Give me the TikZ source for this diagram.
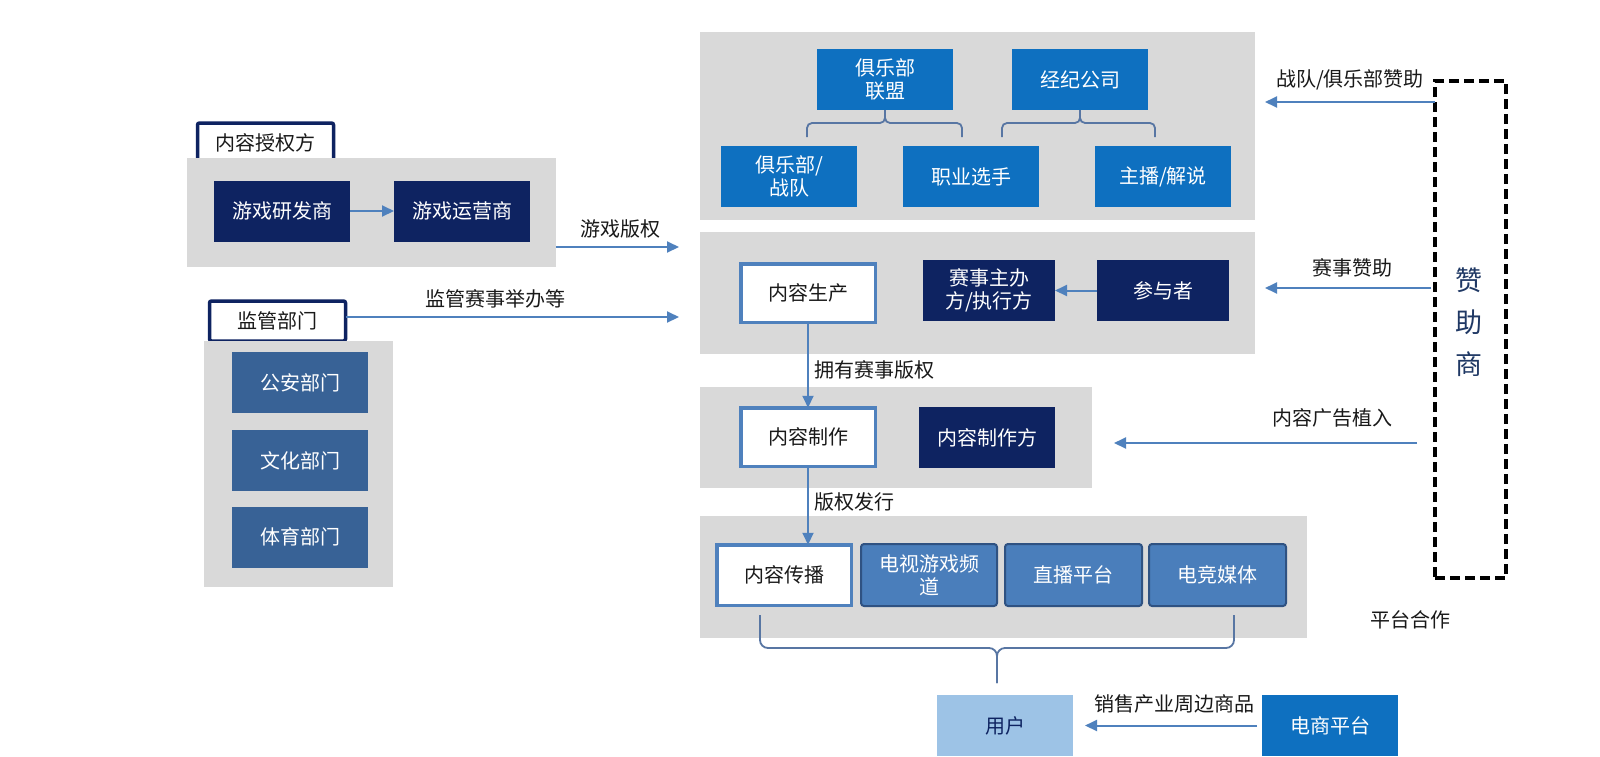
\documentclass[tikz,border=0pt]{standalone}
\usepackage{fontspec}
\setmainfont{Noto Sans CJK SC}
\usetikzlibrary{arrows.meta,calc}
\definecolor{navy}{RGB}{14,35,97}
\definecolor{midblue}{RGB}{14,112,192}
\definecolor{steel}{RGB}{56,98,150}
\definecolor{plat}{RGB}{74,126,187}
\definecolor{platb}{RGB}{47,82,130}
\definecolor{arrowc}{RGB}{79,129,189}
\definecolor{bracec}{RGB}{88,118,163}
\definecolor{boxgray}{RGB}{217,217,217}
\definecolor{lightb}{RGB}{157,195,230}
\definecolor{sponsor}{RGB}{31,56,100}
\definecolor{txt}{RGB}{25,25,25}
\begin{document}
\begin{tikzpicture}[x=1pt,y=-1pt,
  every node/.style={font=\fontsize{20}{23}\selectfont, inner sep=0pt, outer sep=0pt, align=center, text=txt},
  panel/.style={fill=boxgray},
  tab/.style={draw=navy, line width=3.5pt, fill=white, rounded corners=2pt, minimum width=136pt, minimum height=40pt},
  navybox/.style={fill=navy, text=white, minimum width=136pt, minimum height=61pt},
  bluebox/.style={fill=midblue, text=white, minimum width=136pt, minimum height=61pt},
  steelbox/.style={fill=steel, text=white, minimum width=136pt, minimum height=61pt},
  platbox/.style={fill=plat, draw=platb, line width=2pt, rounded corners=3pt, text=white, minimum width=136pt, minimum height=62pt},
  whitebox/.style={fill=white, draw=arrowc, line width=3.5pt, minimum width=134.5pt, minimum height=58.5pt},
  arr/.style={draw=arrowc, line width=2pt, -{Triangle[length=12pt,width=11pt]}},
  brace/.style={draw=bracec, line width=1.8pt, rounded corners=5pt},
]
\useasboundingbox (0,0) rectangle (1600,756);
\fill[white] (0,0) rectangle (1600,756);

% ---------- left: content licensors ----------
\node[tab] (tab1) at (265.5,143) {内容授权方};
\node[panel, minimum width=369pt, minimum height=109pt] (g1) at (371.5,212.5) {};
\node[navybox] (yf) at (282,211) {游戏研发商};
\node[navybox] (yy) at (462,211) {游戏运营商};
\draw[arr] (yf) -- (yy);

% ---------- left: regulators ----------
\node[tab] (tab2) at (277.5,321) {监管部门};
\node[panel, minimum width=189pt, minimum height=246pt] (g2) at (298.5,464) {};
\node[steelbox] (ga) at (300,382.5) {公安部门};
\node[steelbox] (wh) at (300,460.5) {文化部门};
\node[steelbox] (ty) at (300,537) {体育部门};

% ---------- right panels ----------
\node[panel, minimum width=555pt, minimum height=188pt] (r1) at (977.5,126) {};
\node[panel, minimum width=555pt, minimum height=122pt] (r2) at (977.5,293) {};
\node[panel, minimum width=392pt, minimum height=101pt] (r3) at (896,437.5) {};
\node[panel, minimum width=607pt, minimum height=122pt] (r4) at (1003.5,577) {};

% row 1
\node[bluebox] (lm) at (885,79.5) {俱乐部\\联盟};
\node[bluebox] (jj) at (1080,79.5) {经纪公司};
\node[bluebox] (jlb) at (789,176.5) {俱乐部/\\战队};
\node[bluebox] (zy) at (971,176.5) {职业选手};
\node[bluebox] (zb) at (1163,176.5) {主播/解说};
\draw[brace] ($(lm.south)+(-78,27)$) |- ($(lm.south)+(0,13)$) -- (lm.south);
\draw[brace] ($(lm.south)+(77,27)$) |- ($(lm.south)+(0,13)$) -- (lm.south);
\draw[brace] ($(jj.south)+(-78,27)$) |- ($(jj.south)+(0,13)$) -- (jj.south);
\draw[brace] ($(jj.south)+(75,27)$) |- ($(jj.south)+(0,13)$) -- (jj.south);

% row 2
\node[whitebox] (sc) at (808,293) {内容生产};
\node[navybox, minimum width=132pt] (zbf) at (989,290.5) {赛事主办\\方/执行方};
\node[navybox, minimum width=132pt] (cy) at (1163,290.5) {参与者};
\draw[arr] (cy) -- (zbf);

% row 3
\node[whitebox] (nz) at (808,437) {内容制作};
\node[navybox] (nzf) at (987,437.5) {内容制作方};

% row 4
\node[whitebox, minimum height=60.5pt] (cb) at (784,575) {内容传播};
\node[platbox] (ds) at (929,575) {电视游戏频\\道};
\node[platbox, minimum width=137pt] (zbpt) at (1073.5,575) {直播平台};
\node[platbox, minimum width=137pt] (djmt) at (1217.5,575) {电竞媒体};

% vertical flow
\draw[arr] (sc.south) -- (nz.north);
\node[anchor=west] (l1) at (814,370) {拥有赛事版权};
\draw[arr] (nz.south) -- (nz.south |- cb.north);
\node[anchor=west] (l2) at (814,502) {版权发行};

% bottom brace to users
\coordinate (bl) at (760,615);
\coordinate (br) at (1234,615);
\coordinate (bm) at (997,648);
\coordinate (bt) at (997,683);
\draw[brace, rounded corners=8pt] (bl) |- (bm) -- (bt);
\draw[brace, rounded corners=8pt] (br) |- (bm) -- (bt);

\node[fill=lightb, text=navy, minimum width=136pt, minimum height=61pt] (yh) at (1005,725.5) {用户};
\node[bluebox] (ds2) at (1330,725.5) {电商平台};
\draw[arr, shorten <=5pt, shorten >=12pt] (ds2.west) -- (yh.east);
\node (l3) at (1174,704) {销售产业周边商品};

% inputs from the left
\coordinate (vr) at (0,247);
\draw[arr, shorten >=21pt] (g1.east |- vr) -- (r2.west |- vr);
\node (l4) at (620,229) {游戏版权};
\coordinate (rg) at (0,317);
\draw[arr, shorten >=21pt] (tab2.east |- rg) -- (r2.west |- rg);
\node (l5) at (495,299) {监管赛事举办等};

% sponsor
\node[draw=black, line width=3.5pt, dash pattern=on 10pt off 5pt, minimum width=71pt, minimum height=497pt] (zzs) at (1470.5,329.5) {};
\node[font=\fontsize{27}{42}\selectfont, text=sponsor] (zzt) at (1469,322) {赞\\助\\商};
\coordinate (s1) at (0,102);
\draw[arr, shorten >=10pt] (zzs.west |- s1) -- (r1.east |- s1);
\node (l6) at (1350,80) {战队/俱乐部赞助};
\coordinate (s2) at (0,288);
\draw[arr, shorten <=4pt, shorten >=10pt] (zzs.west |- s2) -- (r2.east |- s2);
\node (l7) at (1352,268) {赛事赞助};
\coordinate (s3) at (0,443);
\draw[arr, shorten <=18pt, shorten >=22pt] (zzs.west |- s3) -- (r3.east |- s3);
\node (l8) at (1332,418) {内容广告植入};
\node (l9) at (1410,620) {平台合作};
\end{tikzpicture}
\end{document}
